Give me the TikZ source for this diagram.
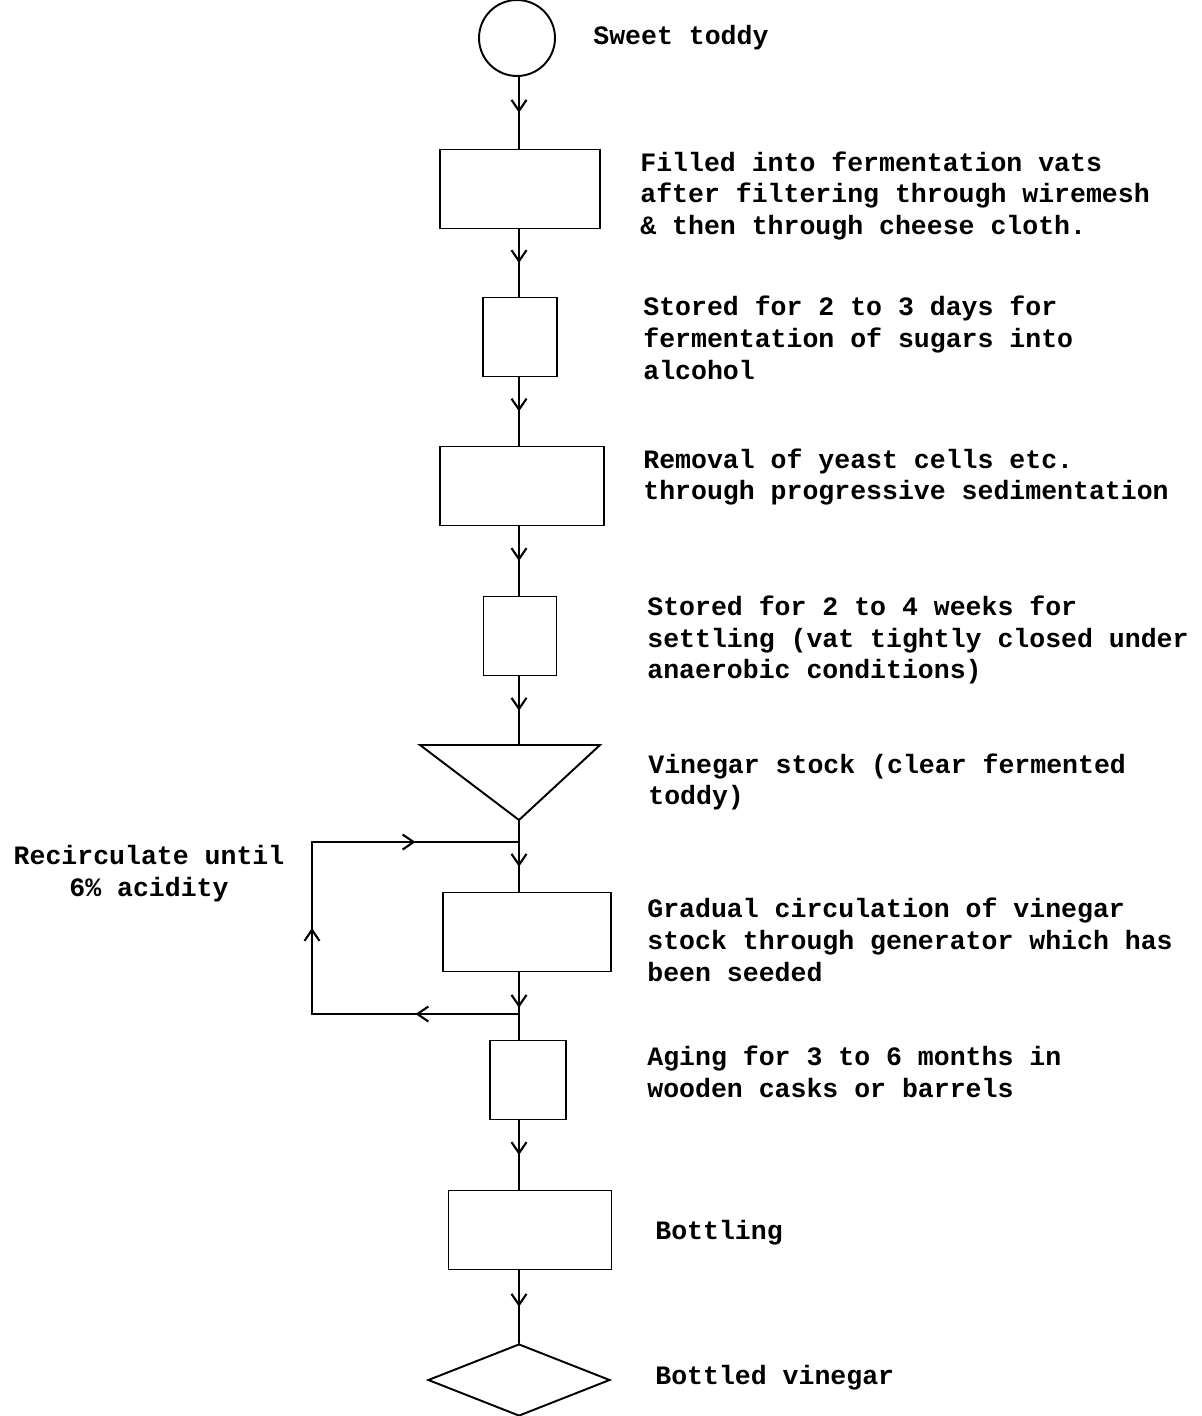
\documentclass[tikz,border=0pt]{standalone}
\usepackage{fontspec}
\newfontfamily\typewriter{Liberation Mono}
\usetikzlibrary{shapes.geometric,decorations.markings,arrows.meta}

\begin{document}
\begin{tikzpicture}[x=0.02cm,y=-0.02cm]
	\tikzset{procbox/.style = {shape=rectangle,draw,line width=1.1pt,minimum height=1.58cm,inner sep=0pt}}
	\tikzset{note/.style = {anchor=west,align=left,inner sep=0pt,font=\typewriter\bfseries\fontsize{15.1}{18.1}\selectfont}}
	\tikzset{line/.style = {draw,line width=1.3pt,line cap=round}}
	\tikzset{flow/.style = {line,postaction={decorate},decoration={markings,mark=at position #1 with {\arrow{Straight Barb[length=2.2mm,width=3mm,line width=1.2pt]}}}},flow/.default=0.5}
	\useasboundingbox (0,0) rectangle (1201,1416);

	% process chain
	\node[draw,circle,line width=1.1pt,minimum size=1.52cm,inner sep=0pt] (start) at (517,38) {};
	\node[procbox,minimum width=3.2cm] (fill) at (520,189) {};
	\node[procbox,minimum width=1.48cm] (ferment) at (520,337) {};
	\node[procbox,minimum width=3.28cm] (removal) at (522,486) {};
	\node[procbox,minimum width=1.46cm] (settle) at (520,636) {};
	\coordinate (stockleft) at (420,745);
	\coordinate (stockright) at (600,745);
	\coordinate (stocktop) at (519,745);
	\coordinate (stock) at (519,820);
	\draw[line width=1.1pt] (stockleft) -- (stockright) -- (stock) -- cycle;
	\node[procbox,minimum width=3.36cm] (generator) at (527,932) {};
	\node[procbox,minimum width=1.52cm] (aging) at (528,1080) {};
	\node[procbox,minimum width=3.26cm] (bottling) at (530,1230) {};
	\node[draw,diamond,aspect=2.5,minimum width=3.64cm,minimum height=1.44cm,inner sep=0pt,line width=1.1pt] (product) at (519,1380) {};

	% connectors
	\coordinate (spine) at (519,0);
	\coordinate (jtop) at (519,842);
	\coordinate (jbot) at (519,1014);
	\coordinate (ltop) at (312,842);
	\coordinate (lbot) at (312,1014);
	\path[flow] (start.south -| spine) -- (fill.north -| spine);
	\path[flow] (fill.south -| spine) -- (ferment.north -| spine);
	\path[flow] (ferment.south -| spine) -- (removal.north -| spine);
	\path[flow] (removal.south -| spine) -- (settle.north -| spine);
	\path[flow] (settle.south -| spine) -- (stocktop);
	\path[line] (stock) -- (jtop);
	\path[flow] (jtop) -- (generator.north -| spine);
	\path[flow=0.85] (generator.south -| spine) -- (jbot);
	\path[line] (jbot) -- (aging.north -| spine);
	\path[flow] (aging.south -| spine) -- (bottling.north -| spine);
	\path[flow] (bottling.south -| spine) -- (product.north);
	% recirculation loop
	\path[flow] (jbot) -- (lbot);
	\path[flow] (lbot) -- (ltop);
	\path[flow] (ltop) -- (jtop);

	% labels
	\node[note] (startlbl) at (593,38) {Sweet toddy};
	\node[note] (filllbl) at (640,196) {Filled into fermentation vats\\after filtering through wiremesh\\\& then through cheese cloth.};
	\node[note] (fermentlbl) at (643,338) {Stored for 2 to 3 days for\\fermentation of sugars into\\alcohol};
	\node[note] (removallbl) at (643,477) {Removal of yeast cells etc.\\through progressive sedimentation};
	\node[note] (settlelbl) at (647,640) {Stored for 2 to 4 weeks for\\settling (vat tightly closed under\\anaerobic conditions)};
	\node[note] (stocklbl) at (648,782) {Vinegar stock (clear fermented\\toddy)};
	\node[note] (generatorlbl) at (647,940) {Gradual circulation of vinegar\\stock through generator which has\\been seeded};
	\node[note] (aginglbl) at (647,1072) {Aging for 3 to 6 months in\\wooden casks or barrels};
	\node[note] (bottlinglbl) at (655,1233) {Bottling};
	\node[note] (productlbl) at (655,1378) {Bottled vinegar};
	\node[note,anchor=center,align=center] (looplbl) at (149,874) {Recirculate until\\6\% acidity};
\end{tikzpicture}
\end{document}
